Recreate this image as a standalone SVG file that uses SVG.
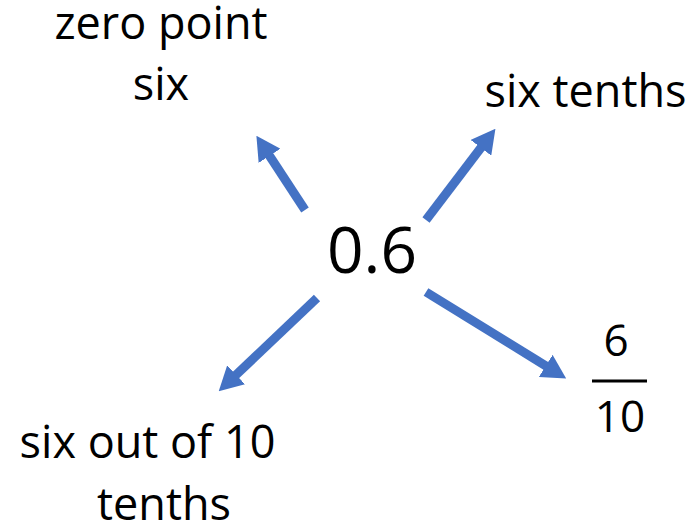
<svg xmlns="http://www.w3.org/2000/svg" width="700" height="532" viewBox="0 0 700 532">
<style>
text{font-family:"Open Sans","Noto Sans","Liberation Sans",sans-serif;fill:#000;text-anchor:middle}
.lbl{font-size:45px}
.big{font-size:64px}
.frac{font-size:44px}
.arr{stroke:#4472C4;stroke-width:9;fill:none;marker-end:url(#ah)}
</style>
<defs>
<marker id="ah" markerUnits="userSpaceOnUse" markerWidth="24" markerHeight="26" viewBox="0 0 24 26" refX="1" refY="13" orient="auto">
<path d="M0,0 L24,13 L0,26 z" fill="#4472C4"/>
</marker>
</defs>
<rect width="700" height="532" fill="#fff"/>
<g id="connectors">
<line class="arr" x1="305" y1="210" x2="269" y2="155"/>
<line class="arr" x1="426" y1="220" x2="481.5" y2="147"/>
<line class="arr" x1="317" y1="298" x2="235.4" y2="375.5"/>
<line class="arr" x1="426" y1="292" x2="546.6" y2="366.4"/>
</g>
<g id="center"><text class="big" x="372" y="273">0.6</text></g>
<g id="zero-point-six"><text class="lbl" x="161" y="39">zero point</text><text class="lbl" x="161" y="100">six</text></g>
<g id="six-tenths"><text class="lbl" x="585.5" y="107">six tenths</text></g>
<g id="six-out-of-10"><text class="lbl" x="147.5" y="458">six out of 10</text><text class="lbl" x="164" y="520">tenths</text></g>
<g id="fraction"><text class="frac" x="616" y="356">6</text><rect x="592" y="379.5" width="55" height="3"/><text class="frac" x="620" y="432">10</text></g>
</svg>
